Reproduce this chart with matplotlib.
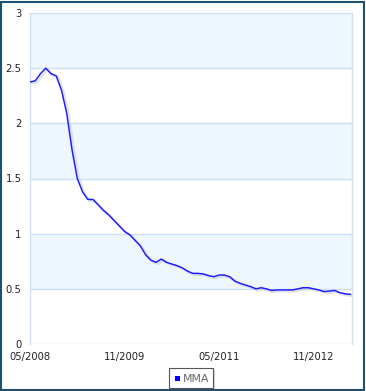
import matplotlib
matplotlib.use("Agg")
import matplotlib.pyplot as plt
from matplotlib.patches import Rectangle
import numpy as np

# Monthly MMA values starting 05/2008
values = [2.375, 2.385, 2.45, 2.50, 2.45, 2.43, 2.30, 2.09, 1.76, 1.50,
          1.38, 1.31, 1.31, 1.26, 1.21, 1.17, 1.12, 1.07, 1.02, 0.99,
          0.94, 0.89, 0.81, 0.76, 0.74, 0.77, 0.74, 0.725, 0.71, 0.69,
          0.66, 0.64, 0.64, 0.635, 0.62, 0.61, 0.625, 0.625, 0.61, 0.57,
          0.55, 0.535, 0.52, 0.50, 0.51, 0.50, 0.485, 0.49, 0.49, 0.49,
          0.49, 0.50, 0.51, 0.51, 0.50, 0.49, 0.475, 0.48, 0.485, 0.465,
          0.455, 0.45]
xtick_pos = [0, 18, 36, 54]
xtick_labels = ["05/2008", "11/2009", "05/2011", "11/2012"]
yticks = [0, 0.5, 1, 1.5, 2, 2.5, 3]
ytick_labels = ["0", "0.5", "1", "1.5", "2", "2.5", "3"]
series_name = "MMA"

W, H = 366, 391
fig = plt.figure(figsize=(W / 100, H / 100), dpi=100)
fig.patch.set_facecolor("white")

ax = fig.add_axes([30 / W, 1 - 344 / H, (352 - 30) / W, (344 - 13) / H])
x = np.arange(len(values))
ax.set_xlim(0, len(values) - 1 + 0.3)
ax.set_ylim(0, 3)

# alternating bands
band = "#eef6fe"
for lo in [0.5, 1.5, 2.5]:
    ax.axhspan(lo, lo + 0.5, color=band, zorder=0, lw=0)
for yv in yticks:
    ax.axhline(yv, color="#cde0f7", lw=1, zorder=1)

# shadow and line
ax.plot(x + 0.35, np.array(values) - 0.012, color="#c8c8d0", lw=2.0, alpha=0.5, zorder=2,
        solid_joinstyle="round")
ax.plot(x, values, color="#1a1aff", lw=1.05, zorder=3, solid_joinstyle="round")

for s in ["left", "right"]:
    ax.spines[s].set_color("#cde0f7")
    ax.spines[s].set_linewidth(1)
for s in ["top", "bottom"]:
    ax.spines[s].set_visible(False)

ax.set_xticks(xtick_pos)
ax.set_xticklabels(xtick_labels)
ax.set_yticks(yticks)
ax.set_yticklabels(ytick_labels)
ax.tick_params(axis="both", length=0, labelsize=7.2, colors="#222222")
ax.tick_params(axis="y", pad=6)
ax.tick_params(axis="x", pad=6)
ax.set_facecolor("white")

# legend box
lx0, lx1, ly0, ly1 = 169, 213, 368, 388
fig.patches.append(Rectangle((lx0 / W + 2 / W, 1 - (ly1 + 2) / H), (lx1 - lx0) / W, (ly1 - ly0) / H,
                             transform=fig.transFigure, facecolor="#d8d8d8", edgecolor="none", zorder=4))
fig.patches.append(Rectangle((lx0 / W, 1 - ly1 / H), (lx1 - lx0) / W, (ly1 - ly0) / H,
                             transform=fig.transFigure, facecolor="white", edgecolor="#555555",
                             lw=0.8, zorder=5))
fig.patches.append(Rectangle((175 / W, 1 - 381 / H), 5 / W, 5 / H, transform=fig.transFigure,
                             facecolor="#0000ff", edgecolor="none", zorder=6))
fig.text(183 / W, 1 - 378.5 / H, series_name, fontsize=7.8, color="#666666", va="center",
         ha="left", zorder=7)

# outer frame
fig.patches.append(Rectangle((1 / W, 1 / H), (W - 3) / W, (H - 3) / H, transform=fig.transFigure,
                             facecolor="none", edgecolor="#1f5070", lw=1.5, zorder=10))

fig.savefig("out.png", dpi=100)
